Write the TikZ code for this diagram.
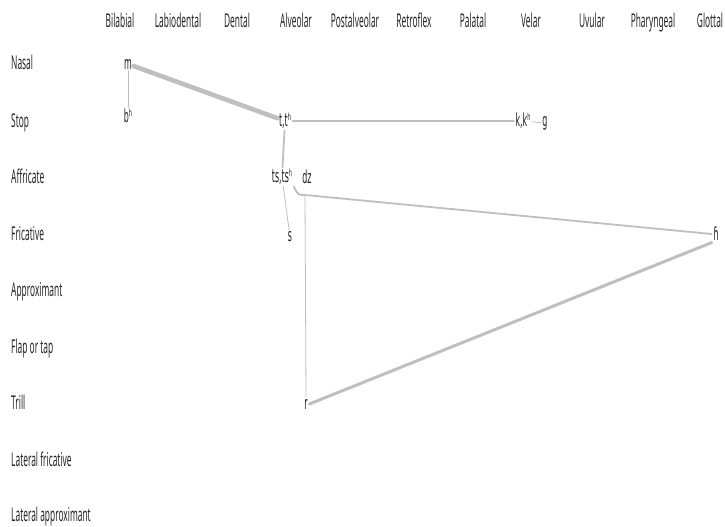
\documentclass[tikz,border=0pt]{standalone}
\usepackage{fontspec}
\usepackage{graphicx}
\setmainfont{Noto Sans}
\newfontfamily\ipafont{DejaVu Sans}
\newcommand{\sq}[1]{\scalebox{0.44}[1]{#1}}
\begin{document}
\begin{tikzpicture}[x=1pt,y=-1pt,
  lab/.style={font=\fontsize{19}{19}\selectfont, text=black!85, inner sep=1pt},
  ph/.style={font=\fontsize{18}{18}\ipafont, text=black!88, inner sep=1.5pt},
  ln/.style={draw=black!25, line cap=round},
]
\useasboundingbox (0,0) rectangle (725,527);
% column labels
\foreach \n/\x/\t in {c1/120/Bilabial,c2/178/Labiodental,c3/237/Dental,c4/296/Alveolar,c5/355/Postalveolar,c6/414/Retroflex,c7/473/Palatal,c8/531/Velar,c9/592/Uvular,c10/653/Pharyngeal,c11/710/Glottal}
  \node[lab, anchor=base] (\n) at (\x,28) {\sq{\t}};
% row labels
\foreach \n/\y/\t in {r1/70/Nasal,r2/127/Stop,r3/183/Affricate,r4/240/Fricative,r5/296/Approximant,r6/353/Flap or tap,r7/409/Trill,r8/466/Lateral fricative,r9/521/Lateral approximant}
  \node[lab, anchor=base west] (\n) at (10,\y) {\sq{\t}};
% phonemes
\node[ph] (m) at (128,64) {\sq{m}};
\node[ph] (b) at (128,116) {\sq{bʰ}};
\node[ph] (t) at (285,121) {\sq{t,tʰ}};
\node[ph] (k) at (523,121) {\sq{k,kʰ}};
\node[ph] (g) at (545,123) {\sq{g}};
\node[ph] (ts) at (282,177) {\sq{ts,tsʰ}};
\node[ph] (dz) at (307,177) {\sq{dz}};
\node[ph] (s) at (290,237) {\sq{s}};
\node[ph] (h) at (716,234) {\sq{ɦ}};
\node[ph] (r) at (306,404) {\sq{r}};
\coordinate (bend) at (305,195);
% connectors
\draw[ln, line width=4.6pt] (m) -- (t);
\draw[ln, line width=0.8pt] (m) -- (b);
\draw[ln, line width=2pt] (t) -- (k);
\draw[ln, line width=0.8pt] (k) -- (g);
\draw[ln, line width=1.8pt] (t) -- (ts);
\draw[ln, line width=0.8pt] (ts) -- (s);
\draw[ln, line width=1.8pt] (ts.south east) .. controls (298,195) .. (bend) -- (h.west);
\draw[ln, line width=0.8pt] (bend) -- (r.north);
\draw[ln, line width=3pt] (h.south west) -- (r.east);
\end{tikzpicture}
\end{document}
